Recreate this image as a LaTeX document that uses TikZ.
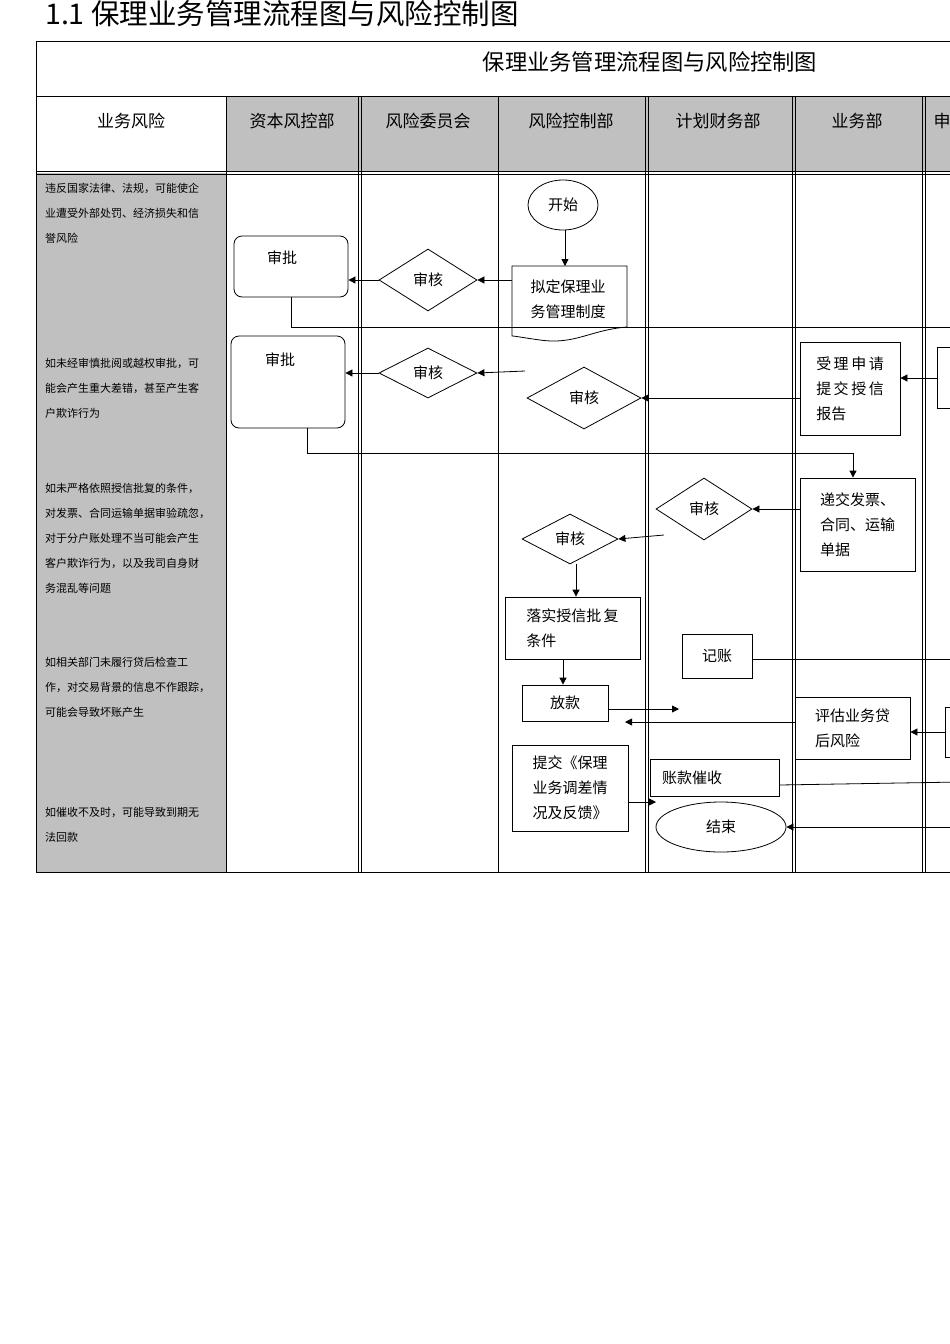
\documentclass[tikz,border=0pt]{standalone}
\usepackage{fontspec}
\setmainfont{Noto Sans CJK SC}
\usetikzlibrary{shapes.geometric,arrows.meta}
\definecolor{gr}{HTML}{C0C0C0}
\tikzset{
 bx/.style={draw,thick,rectangle,inner sep=0pt,font=\fontsize{15}{25}\selectfont},
 rbx/.style={draw,thick,rectangle,rounded corners=8pt,inner sep=0pt,font=\fontsize{15}{25}\selectfont},
 dia/.style={draw,thick,diamond,inner sep=0pt,font=\fontsize{15}{20}\selectfont},
 ell/.style={draw,thick,ellipse,inner sep=0pt,font=\fontsize{15}{20}\selectfont},
 arr/.style={thick,-{Triangle[length=7pt,width=7pt]}},
 ln/.style={thick},
 risk/.style={anchor=north west,align=left,font=\fontsize{11}{25}\selectfont,inner sep=0pt},
 hd/.style={font=\fontsize{17}{20}\selectfont}
}
\begin{document}
\begin{tikzpicture}[x=1pt,y=-1pt]
\path[use as bounding box] (0,0) rectangle (950,1344);
\clip (0,0) rectangle (950,1344);
\node[anchor=west,inner sep=0pt,font=\fontsize{28.5}{30}\selectfont] (title) at (45,14) {1.1 保理业务管理流程图与风险控制图};
% table
\fill[gr] (226,96) rectangle (960,171);
\fill[gr] (36,173) rectangle (226,872);
\draw[thick] (36,41) rectangle (960,872);
\draw[thick] (36,96) -- (960,96);
\draw[thick] (36,171) -- (960,171);
\draw (36,174) -- (960,174);
\foreach \x in {226,498} \draw[thick] (\x,96) -- (\x,872);
\foreach \x in {358,645,792,922} {\draw[thick] (\x,96) -- (\x,872); \draw (\x+3,96) -- (\x+3,872);}
\node[font=\fontsize{22.3}{24}\selectfont] (h0) at (650,62) {保理业务管理流程图与风险控制图};
\node[hd] (h1) at (131,121) {业务风险};
\node[hd] (h2) at (292,121) {资本风控部};
\node[hd] (h3) at (428,121) {风险委员会};
\node[hd] (h4) at (571,121) {风险控制部};
\node[hd] (h5) at (718,121) {计划财务部};
\node[hd] (h6) at (857,121) {业务部};
\node[hd,anchor=west] (h7) at (930,121) {申请};
% risks
\node[risk] (r1) at (45,183) {违反国家法律、法规，可能使企\\业遭受外部处罚、经济损失和信\\誉风险};
\node[risk] (r2) at (45,358) {如未经审慎批阅或越权审批，可\\能会产生重大差错，甚至产生客\\户欺诈行为};
\node[risk] (r3) at (45,483) {如未严格依照授信批复的条件，\\对发票、合同运输单据审验疏忽，\\对于分户账处理不当可能会产生\\客户欺诈行为，以及我司自身财\\务混乱等问题};
\node[risk] (r4) at (45,657) {如相关部门未履行贷后检查工\\作，对交易背景的信息不作跟踪，\\可能会导致坏账产生};
\node[risk] (r5) at (45,807) {如催收不及时，可能导致到期无\\法回款};
% nodes
\node[ell,minimum width=70,minimum height=50] (start) at (563,205) {开始};
\draw[thick] (512,266) -- (627,266) -- (627,327) .. controls (590,330) and (575,345) .. (540,340) .. controls (525,338) and (515,336) .. (512,336) -- cycle;
\node[inner sep=0pt,align=left,font=\fontsize{15}{25}\selectfont] (draft) at (568,299) {拟定保理业\\务管理制度};
\coordinate (draftL) at (512,280);
\node[dia,minimum width=98,minimum height=62] (d1) at (428,280) {审核};
\node[rbx,minimum width=114,minimum height=61] (ap1) at (291,266.5) {};
\node[font=\fontsize{15}{20}\selectfont] (ap1t) at (282,258) {审批};
\node[rbx,minimum width=114,minimum height=92] (ap2) at (288,382) {};
\node[font=\fontsize{15}{20}\selectfont] (ap2t) at (280,360) {审批};
\node[dia,minimum width=98,minimum height=50] (d2) at (428,373) {审核};
\coordinate (d2in) at (525,371);
\node[dia,minimum width=114,minimum height=62] (d3) at (584,398) {审核};
\node[bx,minimum width=100,minimum height=93,align=left] (acc) at (850,388.5) {受\,理\,申\,请\\提\,交\,授\,信\\报告\hspace{2.4em}};
\node[bx,minimum width=30,minimum height=61] (ext1) at (952,378) {};
\node[bx,minimum width=115,minimum height=93,align=left] (sub) at (857.5,524.5) {递交发票、\\合同、运输\\单据};
\node[dia,minimum width=96,minimum height=62] (d4) at (704,509) {审核};
\coordinate (d5in) at (664,535);
\node[dia,minimum width=96,minimum height=50] (d5) at (570,539) {审核};
\node[bx,minimum width=135,minimum height=62,align=left] (impl) at (572.5,628) {落实授信批\,复\\条件\hspace{4.5em}};
\node[bx,minimum width=86,minimum height=36] (loan) at (565,703) {放款};
\coordinate (loanout) at (679,709);
\node[bx,minimum width=115,minimum height=62,align=left] (eval) at (852.5,728) {评估业务贷\\后风险};
\node[bx,minimum width=30,minimum height=50] (ext2) at (960,732) {};
\node[bx,minimum width=70,minimum height=44] (book) at (717,656) {记账};
\node[bx,minimum width=116,minimum height=86,align=left] (rep) at (570,788) {提交《保理\\业务调差情\\况及反馈》};
\node[bx,minimum width=129,minimum height=37,align=left] (coll) at (714.5,777.5) {账款催收\hspace{3em}};
\node[ell,minimum width=130,minimum height=50] (end) at (721,827) {结束};
\coordinate (e1) at (960,327);
\coordinate (e2) at (960,659);
\coordinate (e3) at (960,782);
\coordinate (e4) at (960,827);
\coordinate (evalL) at (625,722);
% connectors
\draw[arr] (start.south -| 565,0) -- (565,266);
\draw[arr] (draftL) -- (d1.east);
\draw[arr] (d1.west) -- (ap1.east |- d1.west);
\draw[ln] (ap1.south) -- (ap1.south |- e1) -- (e1);
\draw[arr] (d2in) -- (d2.east);
\draw[arr] (d2.west) -- (ap2.east |- d2.west);
\draw[arr] (acc.west |- d3.east) -- (d3.east);
\draw[arr] (ext1.west) -- (acc.east |- ext1.west);
\draw[arr] (307,428) -- (307,453) -- (853,453) -- (sub.north -| 853,0);
\draw[arr] (sub.west |- d4.east) -- (d4.east);
\draw[arr] (d5in) -- (d5.east);
\draw[arr] (576,564) -- (impl.north -| 576,0);
\draw[arr] (563,659) -- (loan.north -| 563,0);
\draw[arr] (loan.east |- loanout) -- (loanout);
\draw[arr] (eval.west |- evalL) -- (evalL);
\draw[arr] (ext2.west) -- (eval.east |- ext2.west);
\draw[ln] (book.east |- e2) -- (e2);
\draw[arr] (rep.east |- 0,802) -- (656,802);
\draw[ln] (coll.east |- 0,785) -- (e3);
\draw[arr] (e4) -- (end.east);
\end{tikzpicture}
\end{document}
